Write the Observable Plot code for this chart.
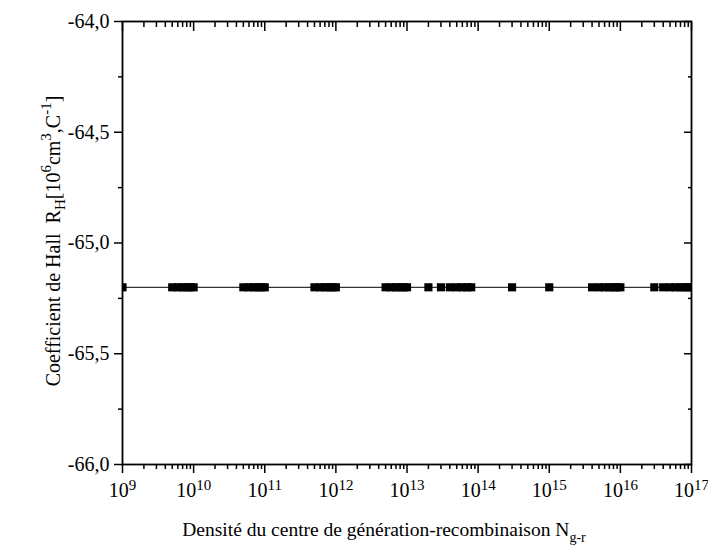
<!DOCTYPE html>
<html><head><meta charset="utf-8">
<script src="https://cdn.jsdelivr.net/npm/d3@7"></script>
<script src="https://cdn.jsdelivr.net/npm/@observablehq/plot@0.6"></script>
<style>
body{margin:0;background:#fff}
#chart svg{background:#fff}
#chart svg text{font-family:"Liberation Serif","Times New Roman",serif !important}
</style>
</head><body><div id="chart"></div>
<script>
// Densité du centre de génération-recombinaison (cm^-3)
const densities = [
  1e9,
  5e9, 6e9, 7e9, 8e9, 9e9, 1e10,
  5e10, 6e10, 7e10, 8e10, 9e10, 1e11,
  5e11, 6e11, 7e11, 8e11, 9e11, 1e12,
  5e12, 6e12, 7e12, 8e12, 9e12, 1e13,
  2e13,
  3e13, 4e13, 5e13, 6e13, 7e13, 8e13,
  3e14,
  1e15,
  4e15, 5e15, 6e15, 7e15, 8e15, 9e15, 1e16,
  3e16, 4e16, 5e16, 6e16, 7e16, 8e16, 9e16, 1e17
];
// Coefficient de Hall R_H (10^6 cm^3/C)
const hallCoefficient = [
  -65.2,
  -65.2, -65.2, -65.2, -65.2, -65.2, -65.2,
  -65.2, -65.2, -65.2, -65.2, -65.2, -65.2,
  -65.2, -65.2, -65.2, -65.2, -65.2, -65.2,
  -65.2, -65.2, -65.2, -65.2, -65.2, -65.2,
  -65.2,
  -65.2, -65.2, -65.2, -65.2, -65.2, -65.2,
  -65.2,
  -65.2,
  -65.2, -65.2, -65.2, -65.2, -65.2, -65.2, -65.2,
  -65.2, -65.2, -65.2, -65.2, -65.2, -65.2, -65.2, -65.2
];
const yTicks = [-66, -65.5, -65, -64.5, -64];
const yTickLabels = ["-66,0", "-65,5", "-65,0", "-64,5", "-64,0"];
const yMinorTicks = [-65.75, -65.25, -64.75, -64.25];
const xTicks = [1e9, 1e10, 1e11, 1e12, 1e13, 1e14, 1e15, 1e16, 1e17];
const xTickExponents = ["9", "10", "11", "12", "13", "14", "15", "16", "17"];
const xMinorMultipliers = [2, 3, 4, 5, 6, 7, 8, 9];

const data = densities.map((n, i) => ({n, rh: hallCoefficient[i]}));
const xMinorTicks = xTicks.slice(0, -1).flatMap(t => xMinorMultipliers.map(m => m * t));

const FS = 20;
const SFS = 15;
const chart = Plot.plot({
  width: 708,
  height: 551,
  marginLeft: 122,
  marginRight: 17,
  marginTop: 21,
  marginBottom: 87,
  style: {fontFamily: '"Liberation Serif","Times New Roman",serif', fontSize: FS + "px", color: "black", background: "white", overflow: "visible"},
  x: {type: "log", domain: [1e9, 1e17], axis: null},
  y: {domain: [-66, -64], axis: null},
  marks: [
    Plot.line(data, {x: "n", y: "rh", stroke: "black", strokeWidth: 1}),
    Plot.dot(data, {x: "n", y: "rh", symbol: "square", r: 4.6, fill: "black", clip: true}),
    // left axis (ticks outward)
    Plot.axisY({anchor: "left", ticks: yTicks, tickSize: 8, tickPadding: 5, strokeWidth: 1.5,
      tickFormat: d => yTickLabels[yTicks.indexOf(d)], fontSize: FS, label: null}),
    Plot.axisY({anchor: "left", ticks: yMinorTicks, tickSize: 4, strokeWidth: 1.5, tickFormat: () => "", label: null}),
    // right axis (ticks pointing left / inward)
    Plot.axisY({anchor: "right", ticks: yTicks, tickSize: -8, strokeWidth: 1.5, tickFormat: () => "", label: null}),
    Plot.axisY({anchor: "right", ticks: yMinorTicks, tickSize: -4, strokeWidth: 1.5, tickFormat: () => "", label: null}),
    // bottom axis (ticks downward)
    Plot.axisX({anchor: "bottom", ticks: xTicks, tickSize: 9, tickPadding: 9, strokeWidth: 1.5,
      tickFormat: d => "10^" + xTickExponents[xTicks.indexOf(d)], fontSize: FS, label: null}),
    Plot.axisX({anchor: "bottom", ticks: xMinorTicks, tickSize: 5, strokeWidth: 1.5, tickFormat: () => "", label: null}),
    // top axis (ticks downward / inward)
    Plot.axisX({anchor: "top", ticks: xTicks, tickSize: -9, strokeWidth: 1.5, tickFormat: () => "", label: null}),
    Plot.axisX({anchor: "top", ticks: xMinorTicks, tickSize: -5, strokeWidth: 1.5, tickFormat: () => "", label: null}),
    Plot.frame({stroke: "black", strokeWidth: 1.8})
  ]
});

const svg = d3.select(chart);
// superscript tick labels 10^n
svg.selectAll("text").each(function() {
  const t = d3.select(this);
  const m = /^10\^(\d+)$/.exec(t.text());
  if (!m) return;
  t.text("10");
  t.append("tspan").attr("dy", "-0.45em").attr("font-size", SFS).text(m[1]);
});

// y-axis title
const yt = svg.append("text")
  .attr("transform", "translate(60,241) rotate(-90)")
  .attr("text-anchor", "middle")
  .attr("font-size", FS)
  .attr("fill", "black")
  .style("white-space", "pre");
yt.append("tspan").text("Coefficient de Hall  R");
yt.append("tspan").attr("dy", 5).attr("font-size", SFS).text("H");
yt.append("tspan").attr("dy", -5).text("[10");
yt.append("tspan").attr("dy", -9).attr("font-size", SFS).text("6");
yt.append("tspan").attr("dy", 9).text("cm");
yt.append("tspan").attr("dy", -9).attr("font-size", SFS).text("3");
yt.append("tspan").attr("dy", 9).text(",C");
yt.append("tspan").attr("dy", -9).attr("font-size", SFS).text("-1");
yt.append("tspan").attr("dy", 9).text("]");

// x-axis title
const xt = svg.append("text")
  .attr("x", 384).attr("y", 536)
  .attr("text-anchor", "middle")
  .attr("font-size", 19.5)
  .attr("fill", "black");
xt.append("tspan").text("Densité du centre de génération-recombinaison N");
xt.append("tspan").attr("dy", 6).attr("font-size", 14).text("g-r");

document.getElementById("chart").appendChild(chart);
</script>
</body></html>
